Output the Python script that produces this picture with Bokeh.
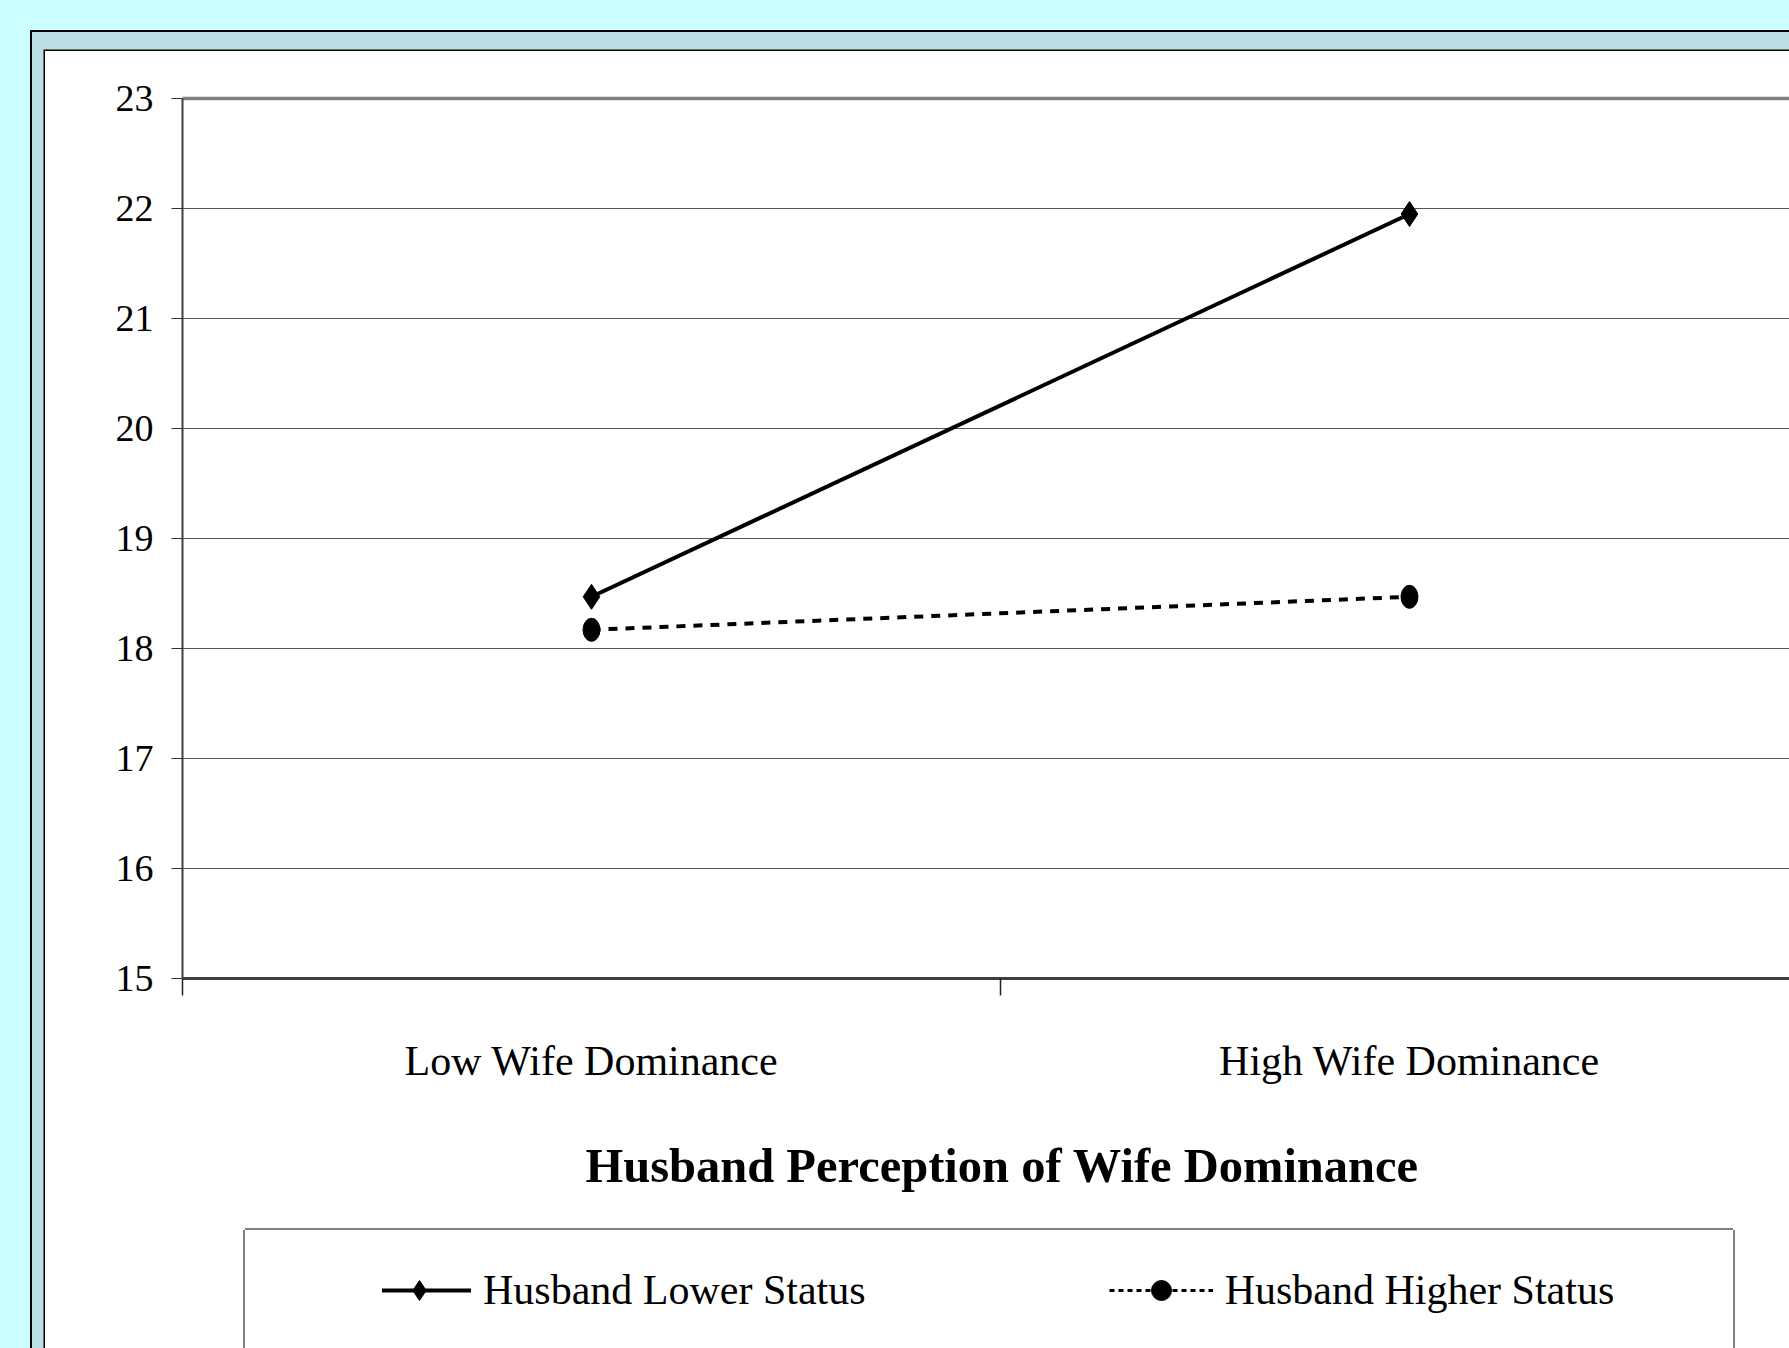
from bokeh.plotting import figure
from bokeh.layouts import column
from bokeh.models import (Range1d, FixedTicker, LinearAxis, Legend, LegendItem, Title)
from bokeh.embed import file_html
from bokeh.resources import INLINE

# ---- data ----
categories = ["Low Wife Dominance", "High Wife Dominance"]
cat_pos = [0.5, 1.5]
lower_status = [18.47, 21.95]
higher_status = [18.17, 18.47]
y_ticks = [15, 16, 17, 18, 19, 20, 21, 22, 23]
series_names = ["Husband Lower Status", "Husband Higher Status"]
x_title = "Husband Perception of Wife Dominance"

FONT = "Liberation Serif"

# ---- main chart (inside the white slide panel) ----
p_main = figure(width=1744, height=1190, output_backend="svg", toolbar_location=None,
                x_range=Range1d(0, 1607 / 818), y_range=Range1d(15, 23),
                min_border_left=137, min_border_top=47, min_border_right=0,
                min_border_bottom=263,
                background_fill_color="white", border_fill_color="white",
                outline_line_color=None)

xa = p_main.xaxis[0]
xa.ticker = FixedTicker(ticks=cat_pos, minor_ticks=[0, 1, 2])
xa.major_label_overrides = {cat_pos[i]: categories[i] for i in range(2)}
xa.major_tick_out = 0
xa.major_tick_in = 0
xa.minor_tick_out = 17
xa.minor_tick_in = 0
xa.minor_tick_line_color = "#222222"
xa.minor_tick_line_width = 1.5
xa.axis_line_color = "#404040"
xa.axis_line_width = 3
xa.major_label_text_font = FONT
xa.major_label_text_font_size = "42px"
xa.major_label_text_color = "black"
xa.major_label_standoff = 42

ya = p_main.yaxis[0]
ya.ticker = FixedTicker(ticks=y_ticks, minor_ticks=[])
ya.major_tick_out = 11
ya.major_tick_in = 0
ya.major_tick_line_color = "#333333"
ya.major_tick_line_width = 1
ya.axis_line_color = "#404040"
ya.axis_line_width = 2
ya.major_label_text_font = FONT
ya.major_label_text_font_size = "38px"
ya.major_label_text_color = "black"
ya.major_label_standoff = 18

top_axis = LinearAxis(ticker=FixedTicker(ticks=[], minor_ticks=[]),
                      axis_line_color="#808080", axis_line_width=3.5,
                      major_tick_out=0, major_tick_in=0,
                      minor_tick_out=0, minor_tick_in=0,
                      major_label_text_alpha=0)
p_main.add_layout(top_axis, "above")

# x-axis title, placed under the middle of the full category span
p_main.add_layout(Title(text=x_title, align="left", offset=403,
                        text_font=FONT, text_font_style="bold",
                        text_font_size="48.5px", text_color="black",
                        standoff=100), "below")

p_main.xgrid.visible = False
p_main.ygrid.ticker = FixedTicker(ticks=y_ticks)
p_main.ygrid.grid_line_color = "#555555"
p_main.ygrid.grid_line_width = 1

p_main.line(cat_pos, lower_status, line_color="black", line_width=4)
p_main.scatter(cat_pos, lower_status, marker="diamond", size=25,
               fill_color="black", line_color="black")
p_main.line(cat_pos, higher_status, line_color="black", line_width=4,
            line_dash="9 8")
p_main.ellipse(cat_pos, higher_status, width=17, height=23,
               width_units="screen", height_units="screen",
               fill_color="black", line_color="black")

# ---- legend panel (box below the chart) ----
p_leg = figure(width=1488, height=118, output_backend="svg", toolbar_location=None,
               x_range=Range1d(0, 1), y_range=Range1d(0, 1),
               x_axis_type=None, y_axis_type=None,
               min_border=0, min_border_left=0, min_border_right=0,
               min_border_top=0, min_border_bottom=0,
               background_fill_color="white", border_fill_color="white",
               outline_line_color=None, margin=(-11, 0, 0, 200),
               styles={"box-shadow": "0 -2px 0 0 #808080, -2px 0 0 0 #808080, 2px 0 0 0 #808080"})
p_leg.grid.visible = False
# legend sample glyphs (kept outside the visible range of this panel)
off_x = [-5, -4]
ll1 = p_leg.line(off_x, lower_status, line_color="black", line_width=4)
ls1 = p_leg.scatter(off_x, lower_status, marker="diamond", size=25,
                    fill_color="black", line_color="black")
ll2 = p_leg.line(off_x, higher_status, line_color="black", line_width=3,
                 line_dash="5 4")
ls2 = p_leg.scatter(off_x, higher_status, marker="circle", size=20,
                    fill_color="black", line_color="black")

legend = Legend(items=[LegendItem(label=series_names[0], renderers=[ll1, ls1]),
                       LegendItem(label=series_names[1], renderers=[ll2, ls2])],
                orientation="horizontal", location=(-15, 33),
                border_line_alpha=0, background_fill_alpha=0,
                label_text_font=FONT, label_text_font_size="42px",
                label_text_color="black",
                glyph_width=104, glyph_height=50, label_standoff=12,
                spacing=243, padding=0, margin=0)
p_leg.add_layout(legend, "center")

inner = column(p_main, p_leg, spacing=0, margin=(51, 0, 0, 45),
               styles={"background-color": "white",
                       "box-shadow": "0 0 0 1.5px black, 6px 0 0 19px #BBE0E3, 6px 0 0 21px black"})
p = column(inner, spacing=0, styles={"background-color": "#CCFFFF"})

open("out.html", "w").write(file_html(p, INLINE))
